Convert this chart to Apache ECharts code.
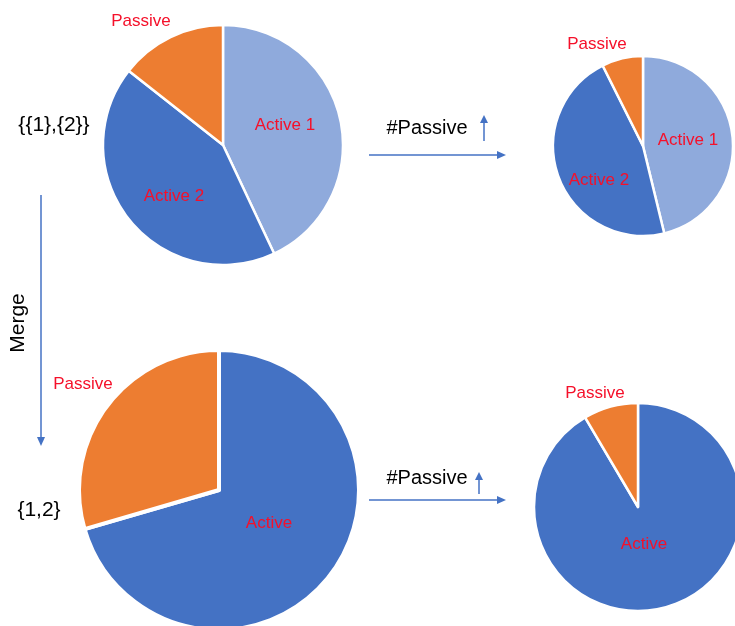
<!DOCTYPE html>
<html>
<head>
<meta charset="utf-8">
<script src="https://cdn.jsdelivr.net/npm/echarts@6/dist/echarts.min.js"></script>
<style>
  html, body { margin: 0; padding: 0; background: #fff; }
  #chart { width: 735px; height: 626px; }
</style>
</head>
<body>
<div id="chart"></div>
<script>
// Share of each group, in percent, for the four pies
const splitNames = ['Active 1', 'Active 2', 'Passive'];
const splitBefore = [43.0, 42.6, 14.4];   // {{1},{2}}
const splitAfter = [46.2, 46.4, 7.4];     // {{1},{2}} after #Passive grows

const mergedNames = ['Active', 'Passive'];
const mergedBefore = [70.5, 29.5];        // {1,2}
const mergedAfter = [91.5, 8.5];          // {1,2} after #Passive grows

const colors = {
  'Active 1': '#8FAADC',
  'Active 2': '#4472C4',
  'Active': '#4472C4',
  'Passive': '#ED7D31'
};

const FONT = "'Liberation Sans', Arial, sans-serif";
const ARROW = '#4472C4';

function pieData(names, values) {
  return names.map((n, i) => ({ name: n, value: values[i], itemStyle: { color: colors[n] } }));
}

function pieSeries(names, values, center, radius, border) {
  return {
    type: 'pie',
    center: center,
    radius: radius,
    startAngle: 90,
    clockwise: true,
    animation: false,
    silent: true,
    label: { show: false },
    labelLine: { show: false },
    itemStyle: { borderColor: '#fff', borderWidth: border },
    data: pieData(names, values)
  };
}

function redLabel(text, x, y) {
  return {
    type: 'text', x: x, y: y, z: 100,
    style: { text: text, fill: '#F5102A', font: '17px ' + FONT, align: 'center', verticalAlign: 'middle' }
  };
}

function blackText(text, x, y, size) {
  return {
    type: 'text', x: x, y: y, z: 100,
    style: { text: text, fill: '#000', font: size + 'px ' + FONT, align: 'center', verticalAlign: 'middle' }
  };
}

function line(x1, y1, x2, y2) {
  return { type: 'line', z: 100, shape: { x1: x1, y1: y1, x2: x2, y2: y2 }, style: { stroke: ARROW, lineWidth: 1.5 } };
}

function head(points) {
  return { type: 'polygon', z: 100, shape: { points: points }, style: { fill: ARROW } };
}

const chart = echarts.init(document.getElementById('chart'), null, { renderer: 'canvas' });

chart.setOption({
  backgroundColor: '#fff',
  series: [
    pieSeries(splitNames, splitBefore, [223, 145], 120, 2.5),
    pieSeries(splitNames, splitAfter, [643, 146], 90, 2.5),
    pieSeries(mergedNames, mergedBefore, [219, 490], 140, 4),
    pieSeries(mergedNames, mergedAfter, [638, 507], 104, 2.5)
  ],
  graphic: [
    // slice labels
    redLabel('Passive', 141, 21),
    redLabel('Active 1', 285, 125),
    redLabel('Active 2', 174, 196),
    redLabel('Passive', 597, 44),
    redLabel('Active 1', 688, 140),
    redLabel('Active 2', 599, 180),
    redLabel('Passive', 83, 384),
    redLabel('Active', 269, 523),
    redLabel('Passive', 595, 393),
    redLabel('Active', 644, 544),

    // set notation and step captions
    blackText('{{1},{2}}', 54, 125, 21),
    blackText('{1,2}', 39, 510, 21),
    blackText('#Passive', 427, 128, 20),
    blackText('#Passive', 427, 478, 20),
    {
      type: 'text', x: 18, y: 323, z: 100, rotation: Math.PI / 2,
      style: { text: 'Merge', fill: '#000', font: '21px ' + FONT, align: 'center', verticalAlign: 'middle' }
    },

    // merge arrow (downwards)
    line(41, 195, 41, 438),
    head([[37, 437], [45, 437], [41, 446]]),

    // top transition arrows
    line(369, 155, 498, 155),
    head([[497, 151], [497, 159], [506, 155]]),
    line(484, 141, 484, 122),
    head([[480, 123], [488, 123], [484, 115]]),

    // bottom transition arrows
    line(369, 500, 498, 500),
    head([[497, 496], [497, 504], [506, 500]]),
    line(479, 494, 479, 479),
    head([[475, 480], [483, 480], [479, 472]])
  ]
});
</script>
</body>
</html>
